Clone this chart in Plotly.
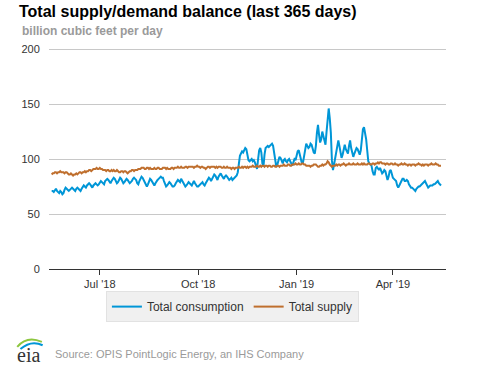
import datetime as dt
import plotly.graph_objects as go

start_date = dt.date(2018, 5, 17)

consumption = [
    71, 71, 70, 72, 73, 71, 70, 69, 71, 70,
    68, 69, 72, 74, 73, 72, 71, 72, 73, 74,
    73, 72, 71, 73, 74, 73, 72, 71, 73, 75,
    76, 75, 74, 76, 77, 78, 77, 75, 74, 76,
    77, 78, 77, 76, 77, 79, 80, 79, 78, 77,
    80, 81, 82, 81, 79, 78, 80, 82, 83, 82,
    80, 78, 79, 81, 83, 82, 80, 78, 79, 81,
    82, 81, 79, 78, 79, 80, 82, 83, 82, 81,
    78, 77, 80, 82, 84, 83, 81, 78, 76, 75,
    77, 80, 82, 81, 79, 77, 76, 78, 80, 81,
    82, 83, 84, 83, 83, 80, 77, 75, 76, 78,
    79, 78, 76, 75, 75, 76, 78, 80, 81, 80,
    79, 82, 80, 78, 76, 75, 76, 78, 79, 78,
    77, 76, 78, 80, 78, 76, 75, 75, 76, 77,
    78, 79, 77, 76, 78, 80, 81, 83, 82, 80,
    82, 84, 86, 85, 82, 81, 84, 86, 87, 85,
    83, 82, 84, 85, 84, 82, 81, 82, 83, 81,
    82, 83, 84, 85, 88, 96, 103, 105, 107, 106,
    108, 110, 109, 104, 99, 98, 99, 100, 98, 99,
    97, 94, 91, 100, 108, 110, 106, 96, 93, 104,
    110, 111, 112, 111, 112, 113, 114, 112, 105, 97,
    93, 95, 99, 102, 101, 98, 96, 99, 100, 98,
    97, 99, 100, 98, 95, 94, 97, 100, 99, 103,
    107, 108, 104, 99, 96, 97, 103, 110, 114, 112,
    110, 111, 114, 113, 109, 106, 105, 112, 124, 131,
    122, 115, 118, 125, 121, 115, 113, 125, 140, 146,
    137, 124, 99, 90, 95, 101, 108, 114, 117, 112,
    105, 101, 104, 110, 113, 109, 106, 105, 112, 117,
    110, 104, 102, 105, 108, 110, 109, 106, 104, 108,
    118, 127, 129, 124, 118, 108, 98, 96, 95, 94,
    89, 86, 86, 92, 93, 91, 90, 92, 90, 87,
    88, 90, 89, 85, 81, 84, 89, 90, 86, 83,
    82, 81, 80, 76, 74, 76, 79, 80, 82, 82,
    80, 80, 81, 80, 77, 75, 74, 74, 73, 72,
    71, 73, 74, 75, 75, 76, 77, 78, 79, 80,
    78, 75, 74, 75, 76, 76, 76, 77, 77, 78,
    79, 80, 78, 77, 76,
]

supply = [
    86, 87, 87, 88, 88, 87, 88, 88, 89, 88,
    88, 88, 87, 88, 88, 87, 86, 86, 87, 86,
    85, 86, 86, 87, 86, 87, 88, 88, 87, 88,
    88, 89, 88, 89, 89, 90, 90, 89, 90, 91,
    91, 91, 92, 91, 91, 92, 91, 91, 90, 90,
    90, 89, 90, 90, 89, 89, 90, 89, 90, 89,
    89, 90, 89, 88, 88, 89, 89, 88, 89, 89,
    88, 87, 88, 89, 89, 90, 90, 89, 90, 90,
    90, 91, 91, 91, 92, 92, 92, 91, 91, 92,
    92, 91, 92, 91, 91, 91, 92, 91, 91, 92,
    92, 91, 91, 91, 92, 92, 92, 91, 92, 91,
    91, 91, 92, 92, 91, 92, 92, 92, 93, 92,
    92, 93, 92, 92, 92, 93, 93, 92, 93, 93,
    93, 93, 93, 92, 93, 93, 94, 93, 93, 92,
    93, 93, 92, 92, 91, 92, 93, 93, 92, 93,
    93, 93, 93, 92, 93, 92, 93, 93, 93, 92,
    92, 93, 92, 92, 93, 92, 92, 92, 91, 92,
    92, 91, 92, 92, 92, 93, 92, 92, 93, 92,
    93, 93, 92, 93, 92, 93, 93, 93, 94, 93,
    93, 93, 94, 93, 93, 94, 93, 94, 94, 93,
    94, 94, 93, 94, 94, 93, 93, 94, 94, 93,
    93, 94, 94, 93, 94, 94, 94, 95, 94, 94,
    94, 95, 95, 94, 94, 95, 95, 95, 96, 95,
    95, 96, 95, 95, 96, 96, 95, 95, 94, 94,
    94, 94, 93, 94, 94, 95, 95, 95, 94, 93,
    93, 94, 94, 95, 94, 95, 95, 96, 98, 97,
    95, 94, 93, 94, 94, 94, 95, 94, 95, 95,
    94, 95, 95, 96, 95, 94, 95, 95, 96, 95,
    95, 95, 96, 95, 95, 95, 96, 95, 95, 95,
    96, 95, 96, 95, 95, 95, 96, 96, 95, 95,
    96, 96, 95, 96, 96, 97, 96, 97, 97, 96,
    96, 96, 95, 96, 96, 95, 95, 96, 96, 95,
    95, 96, 95, 95, 94, 95, 95, 96, 95, 95,
    96, 95, 95, 94, 95, 95, 94, 95, 95, 95,
    94, 95, 95, 96, 95, 95, 94, 95, 94, 95,
    95, 95, 94, 95, 95, 96, 95, 95, 95, 96,
    95, 95, 94, 94, 94,
]

dates = [start_date + dt.timedelta(days=i) for i in range(len(consumption))]

tick_vals = ["2018-07-01", "2018-10-01", "2019-01-01", "2019-04-01"]
tick_text = ["Jul '18", "Oct '18", "Jan '19", "Apr '19"]
y_ticks = [0, 50, 100, 150, 200]

FONT = "Liberation Sans, Arial, sans-serif"

fig = go.Figure()
fig.add_trace(go.Scatter(x=dates, y=consumption, mode="lines", name="Total consumption",
                         line=dict(color="#0096d7", width=2)))
fig.add_trace(go.Scatter(x=dates, y=supply, mode="lines", name="Total supply",
                         line=dict(color="#bf6f2e", width=2)))

fig.update_layout(
    width=477, height=367,
    margin=dict(l=49, r=31, t=48, b=98),
    paper_bgcolor="white", plot_bgcolor="white",
    font=dict(family=FONT, size=11, color="#333333"),
    showlegend=True,
    legend=dict(orientation="h", x=0.462, xanchor="center", y=-0.1, yanchor="top",
                bgcolor="#f0f0f0", bordercolor="#e2e2e2", borderwidth=1,
                font=dict(size=12, color="#333333")),
    xaxis=dict(range=["2018-05-14 12:00", "2019-05-20 16:00"], tickvals=tick_vals,
               ticktext=tick_text, showgrid=False, showline=True, linecolor="#333333",
               linewidth=1, ticks="outside", ticklen=5, tickcolor="#333333",
               tickfont=dict(size=11, color="#333333"), zeroline=False, fixedrange=True),
    yaxis=dict(range=[0, 201], tickvals=y_ticks, showgrid=True, gridcolor="#c8c8c8",
               gridwidth=1, zeroline=False, showline=False, ticks="outside", ticklen=6,
               tickcolor="rgba(0,0,0,0)", tickfont=dict(size=11, color="#333333"),
               fixedrange=True),
    annotations=[
        dict(text="<b>Total supply/demand balance (last 365 days)</b>", xref="paper", yref="paper",
             x=-0.080, y=1.165, xanchor="left", yanchor="middle", showarrow=False,
             font=dict(size=16, color="#000000", family=FONT)),
        dict(text="<b>billion cubic feet per day</b>", xref="paper", yref="paper",
             x=-0.072, y=1.079, xanchor="left", yanchor="middle", showarrow=False,
             font=dict(size=12, color="#9a9a9a", family=FONT)),
        dict(text="Source: OPIS PointLogic Energy, an IHS Company", xref="paper", yref="paper",
             x=0.011, y=-0.385, xanchor="left", yanchor="middle", showarrow=False,
             font=dict(size=11, color="#9a9a9a", family=FONT)),
        dict(text="eia", xref="paper", yref="paper",
             x=-0.051, y=-0.39, xanchor="center", yanchor="middle", showarrow=False,
             font=dict(size=20, color="#333333", family="Liberation Serif, serif")),
    ],
    shapes=[
        dict(type="path", xref="paper", yref="paper",
             path="M -0.080,-0.352 Q -0.055,-0.300 -0.018,-0.330",
             line=dict(color="#8dc63f", width=2)),
        dict(type="path", xref="paper", yref="paper",
             path="M -0.072,-0.362 Q -0.045,-0.320 -0.016,-0.345",
             line=dict(color="#0096d7", width=2)),
    ],
)

fig.write_html("out.html", config={"displayModeBar": False},
               post_script="document.body.style.margin='0px';document.body.style.overflow='hidden';")
